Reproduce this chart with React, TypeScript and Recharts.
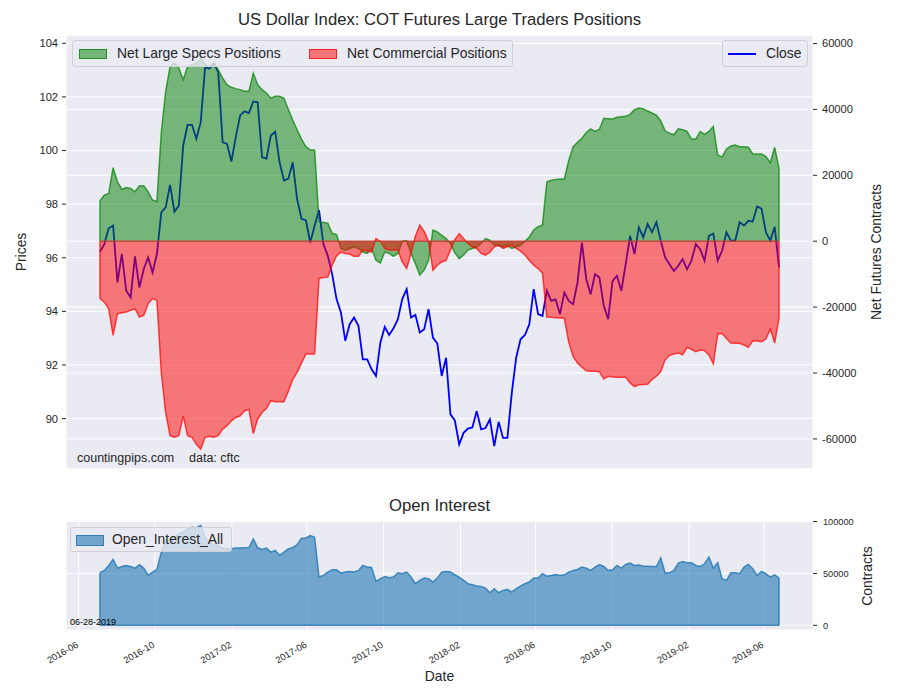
import React from 'react';
import {
  ComposedChart,
  AreaChart,
  Area,
  Line,
  XAxis,
  YAxis,
  CartesianGrid,
  ReferenceLine,
} from 'recharts';

// weekly COT report dates (Tuesdays) starting here
const FIRST_REPORT = '2016-07-05';
const WEEK_MS = 7 * 24 * 3600 * 1000;

const dateTicks = [
  '2016-06', '2016-10', '2017-02', '2017-06', '2017-10',
  '2018-02', '2018-06', '2018-10', '2019-02', '2019-06',
];
const priceTicks = [90, 92, 94, 96, 98, 100, 102, 104];
const netTicks = [-60000, -40000, -20000, 0, 20000, 40000, 60000];
const oiTicks = [0, 50000, 100000];

const closePrice = [
  96.22, 96.51, 97.1, 97.2, 95.08, 96.14, 94.77, 94.52, 96.05, 94.89,
  95.58, 96.01, 95.45, 96.14, 97.69, 97.88, 98.72, 97.72, 97.94, 100.19,
  100.96, 100.96, 100.44, 101.06, 103.11, 103.05, 103.24, 102.93, 100.31, 100.25,
  99.59, 100.5, 101.31, 101.46, 101.4, 101.83, 101.8, 99.75, 99.7, 100.56,
  100.7, 99.56, 98.88, 98.95, 99.56, 98.19, 97.45, 97.4, 96.57, 97.2,
  97.78, 96.51, 96.07, 95.39, 94.46, 93.96, 92.9, 93.52, 93.77, 93.46,
  92.21, 92.21, 91.84, 91.59, 92.83, 93.42, 93.12, 93.37, 93.71, 94.46,
  94.83, 93.77, 93.87, 93.21, 93.33, 94.08, 93.02, 92.8, 91.59, 92.27,
  90.16, 89.93, 89.04, 89.47, 89.63, 89.67, 90.28, 89.6, 89.65, 89.97,
  88.97, 89.88, 89.28, 89.28, 90.96, 92.27, 92.96, 93.12, 93.52, 94.83,
  93.9, 93.83, 94.77, 94.39, 94.45, 93.9, 94.7, 94.39, 94.27, 95.08,
  96.57, 95.2, 94.64, 95.39, 95.26, 94.21, 93.71, 95.14, 95.33, 94.77,
  95.76, 96.82, 96.14, 97.13, 96.76, 97.26, 96.95, 97.32, 96.64, 96.01,
  95.76, 95.51, 95.7, 95.95, 95.57, 95.89, 96.51, 96.32, 95.89, 96.82,
  96.9, 95.89, 96.26, 96.95, 96.64, 96.64, 97.32, 97.2, 97.38, 97.35,
  97.91, 97.83, 96.95, 96.64, 97.16, 95.64,
];

const netLargeSpecs = [
  12300, 14000, 14500, 22300, 18000, 15700, 16300, 16000, 15000, 16800,
  16800, 15000, 12500, 12000, 33000, 45500, 53000, 54100, 52600, 49000,
  53000, 53600, 54100, 55600, 53600, 53000, 54100, 52000, 49500, 47500,
  46700, 46300, 46000, 45500, 45500, 51000, 47500, 46000, 45000, 43400,
  44000, 44000, 43400, 40000, 36800, 33800, 31000, 28700, 27700, 27700,
  5900, 5700, 5500, 2400, 2000, -2200, -2700, -2200, -1700, -2200,
  -3300, -3700, -2200, -5800, -6600, -3300, -3700, -4600, -3700, 0,
  200, -3700, -6800, -10300, -8800, -5800, 3400, 2800, 1800, 800,
  -700, -3500, -5300, -4200, -2700, -2200, -1700, -700, 800, 300,
  -1200, -1400, -1700, -1200, -2200, -1700, -1200, 0, 1300, 3400,
  4400, 4900, 18000, 18500, 18700, 18900, 18900, 24500, 28700, 30000,
  31200, 33000, 34100, 33300, 34000, 37300, 37200, 37100, 37600, 37800,
  37900, 38500, 39900, 40400, 40200, 39500, 38900, 38300, 36500, 33500,
  32800, 32300, 34100, 33800, 33300, 31000, 31000, 33300, 32400, 33300,
  34800, 26200, 25600, 28000, 28900, 29200, 28700, 28700, 28500, 26500,
  26500, 26500, 25700, 23800, 28500, 22100,
];

const netCommercial = [
  -17400, -18500, -20500, -28600, -22000, -21700, -21500, -21000, -20500, -23000,
  -22500, -19000, -17400, -17900, -39800, -52000, -59000, -59500, -59000, -53000,
  -59000, -59500, -61600, -63100, -59500, -59200, -59500, -59000, -57000, -56000,
  -54500, -53500, -53000, -51500, -51000, -58400, -54000, -52000, -50800, -48400,
  -48700, -48700, -48700, -45500, -42000, -39800, -37000, -34200, -34200, -34200,
  -11300, -11000, -10900, -7300, -4500, -3300, -3700, -3900, -4600, -4600,
  -2700, -3000, -3300, 800, 0, -2200, -2700, -2700, -2700, -6300,
  -8300, -3700, 1500, 4900, 3000, 0, -8800, -7300, -6300, -5800,
  -2700, 500, 2300, 800, -700, -1700, -2200, -3700, -4200, -3300,
  -1700, -1200, -2200, -1700, -1200, -2200, -3000, -4200, -5800, -7300,
  -8300, -9600, -23000, -23100, -23200, -23300, -23400, -30600, -35000, -37000,
  -38200, -39300, -39500, -39500, -39600, -41800, -41000, -41200, -41300, -41300,
  -41300, -43000, -44100, -43600, -43500, -43400, -42000, -41000, -39600, -36000,
  -34700, -34200, -33900, -34500, -32200, -32800, -33500, -33000, -33200, -34500,
  -37200, -28100, -28000, -29500, -30900, -31000, -31000, -31500, -32200, -30200,
  -30300, -30500, -29700, -26600, -30900, -23200,
];

const openInterest = [
  50700, 52900, 57700, 63500, 55100, 56700, 57700, 56700, 55100, 58300,
  55100, 48100, 51300, 53800, 70500, 81700, 83300, 84900, 88100, 89700,
  92900, 94500, 94000, 96100, 84900, 80100, 77600, 76900, 74400, 73700,
  73700, 74400, 74400, 74700, 75000, 83300, 74700, 73100, 74400, 70500,
  72100, 67300, 70500, 73700, 75000, 77600, 84000, 84200, 86500, 84900,
  46500, 48100, 51300, 53500, 53500, 50300, 51300, 51900, 51300, 52900,
  57700, 56100, 55800, 42300, 44900, 47100, 45800, 46500, 50600, 49700,
  51300, 46500, 40100, 43300, 45500, 44900, 41700, 45500, 51300, 51900,
  51300, 48700, 46500, 43300, 40100, 39100, 37800, 37500, 35900, 31400,
  35300, 31400, 33700, 34600, 32100, 35300, 37800, 40100, 41700, 45500,
  45500, 49700, 47400, 48100, 49000, 48100, 48700, 51300, 52900, 53800,
  56100, 55100, 52900, 56100, 58600, 56700, 52900, 53500, 57700, 55100,
  58600, 59900, 57700, 58000, 57000, 57000, 56700, 56700, 65100, 50300,
  50600, 52900, 59900, 61500, 60300, 60300, 57700, 56700, 59300, 65700,
  55100, 60300, 44900, 43300, 50600, 50600, 49700, 56100, 58600, 54500,
  48100, 51900, 49700, 46500, 48700, 45500,
];

const firstTs = Date.parse(FIRST_REPORT + 'T00:00:00Z');
const data = closePrice.map((close, i) => ({
  t: firstTs + i * WEEK_MS,
  close,
  specs: netLargeSpecs[i],
  comm: netCommercial[i],
  oi: openInterest[i],
}));

const lastIdx = data.length - 1;
const lastTs = data[lastIdx].t;
const pad = (lastTs - firstTs) * 0.05;
const xDomain = [firstTs - pad, lastTs + pad];
const xTicks = dateTicks.map((d) => Date.parse(d + '-01T00:00:00Z'));

const FONT = '"Liberation Sans", Arial, Helvetica, sans-serif';
const INK = '#262626';
const BG = '#EAEAF2';

function DateTick(props: any) {
  const { x, y, payload } = props;
  const label = dateTicks[xTicks.indexOf(payload.value)];
  return (
    <g transform={`translate(${x - 3},${y + 3})`}>
      <text transform="rotate(-30)" textAnchor="end" dy="0.7em" fontSize={9.3} fill={INK} fontFamily={FONT}>
        {label}
      </text>
    </g>
  );
}

const abs = (left: number, top: number, extra: React.CSSProperties = {}): React.CSSProperties => ({
  position: 'absolute',
  left,
  top,
  whiteSpace: 'nowrap',
  ...extra,
});

const legendBox: React.CSSProperties = {
  position: 'absolute',
  background: 'rgba(234,234,242,0.8)',
  border: '1px solid #cfcfd4',
  borderRadius: 3,
  boxSizing: 'border-box',
  fontSize: 13.9,
};

// closing edges of a filled polygon (the sides Area does not stroke)
function edgeSegments(key: 'specs' | 'comm' | 'oi') {
  return [0, lastIdx].map((i) => [
    { x: data[i].t, y: 0 },
    { x: data[i].t, y: data[i][key] },
  ]);
}

// The positions panel is two charts stacked on the same axes, so that the
// translucent areas sit over the price line, as in the original figure.
function PositionsChart({ front }: { front: boolean }) {
  const tick = front ? false : { fill: INK, fontSize: 11.1, fontFamily: FONT };
  const tickLine = front ? false : { stroke: INK };
  return (
    <ComposedChart
      width={900}
      height={480}
      data={data}
      margin={{ top: 35, right: 27, bottom: 11, left: 0 }}
    >
      {!front && <CartesianGrid yAxisId="price" fill={BG} stroke="#ffffff" strokeWidth={1} />}
      {!front && <CartesianGrid yAxisId="net" vertical={false} stroke="#ffffff" strokeWidth={1} />}
      <XAxis
        dataKey="t"
        type="number"
        domain={xDomain}
        ticks={xTicks}
        interval={0}
        allowDataOverflow
        height={0}
        tick={false}
        tickLine={false}
        axisLine={false}
      />
      <YAxis
        yAxisId="price"
        orientation="left"
        width={66}
        domain={[88.12, 104.31]}
        ticks={priceTicks}
        interval={0}
        allowDataOverflow
        axisLine={false}
        tickSize={4}
        tickMargin={4}
        tickLine={tickLine}
        tick={tick}
      />
      <YAxis
        yAxisId="net"
        orientation="right"
        width={60}
        domain={[-69130, 62580]}
        ticks={netTicks}
        interval={0}
        allowDataOverflow
        axisLine={false}
        tickSize={4}
        tickMargin={5}
        tickLine={tickLine}
        tick={tick}
      />
      {!front && (
        <Line
          yAxisId="price"
          type="linear"
          dataKey="close"
          stroke="#0000ff"
          strokeWidth={1.8}
          dot={false}
          isAnimationActive={false}
        />
      )}
      {front && (
        <Area
          yAxisId="net"
          type="linear"
          dataKey="specs"
          baseValue={0}
          fill="green"
          fillOpacity={0.5}
          stroke="green"
          strokeOpacity={0.7}
          strokeWidth={1.5}
          isAnimationActive={false}
        />
      )}
      {front && (
        <Area
          yAxisId="net"
          type="linear"
          dataKey="comm"
          baseValue={0}
          fill="red"
          fillOpacity={0.5}
          stroke="red"
          strokeOpacity={0.7}
          strokeWidth={1.5}
          isAnimationActive={false}
        />
      )}
      {front &&
        edgeSegments('specs').map((seg, k) => (
          <ReferenceLine key={`g${k}`} yAxisId="net" segment={seg} stroke="green" strokeOpacity={0.7} strokeWidth={1.5} />
        ))}
      {front &&
        edgeSegments('comm').map((seg, k) => (
          <ReferenceLine key={`r${k}`} yAxisId="net" segment={seg} stroke="red" strokeOpacity={0.7} strokeWidth={1.5} />
        ))}
      {front && (
        <ReferenceLine
          yAxisId="net"
          segment={[{ x: firstTs, y: 0 }, { x: lastTs, y: 0 }]}
          stroke="#c0392b"
          strokeOpacity={0.85}
          strokeWidth={1.5}
        />
      )}
    </ComposedChart>
  );
}

function OpenInterestChart() {
  return (
    <AreaChart
      width={900}
      height={210}
      data={data}
      margin={{ top: 31, right: 27, bottom: 15, left: 66 }}
    >
      <CartesianGrid fill={BG} stroke="#ffffff" strokeWidth={1} />
      <XAxis
        dataKey="t"
        type="number"
        domain={xDomain}
        ticks={xTicks}
        interval={0}
        allowDataOverflow
        height={55}
        axisLine={false}
        tickLine={false}
        tick={<DateTick />}
      />
      <YAxis
        orientation="right"
        width={60}
        domain={[-4500, 100500]}
        ticks={oiTicks}
        interval={0}
        allowDataOverflow
        axisLine={false}
        tickSize={4}
        tickMargin={6}
        tickLine={{ stroke: INK }}
        tick={{ fill: INK, fontSize: 9.2, fontFamily: FONT }}
      />
      <Area
        type="linear"
        dataKey="oi"
        baseValue={0}
        fill="#1f77b4"
        fillOpacity={0.6}
        stroke="#1f77b4"
        strokeOpacity={0.8}
        strokeWidth={1.5}
        isAnimationActive={false}
      />
      {edgeSegments('oi').map((seg, k) => (
        <ReferenceLine key={`o${k}`} segment={seg} stroke="#1f77b4" strokeOpacity={0.8} strokeWidth={1.5} />
      ))}
      <ReferenceLine
        segment={[{ x: firstTs, y: 0 }, { x: lastTs, y: 0 }]}
        stroke="#1f77b4"
        strokeOpacity={0.8}
        strokeWidth={1.5}
      />
    </AreaChart>
  );
}

export default function App() {
  return (
    <div
      style={{
        position: 'absolute',
        left: 0,
        top: 0,
        width: 900,
        height: 700,
        background: '#ffffff',
        fontFamily: FONT,
        color: INK,
        overflow: 'hidden',
      }}
    >
      <div style={abs(0, 0)}>
        <PositionsChart front={false} />
      </div>
      <div style={abs(0, 0)}>
        <PositionsChart front />
      </div>
      <div style={abs(0, 490)}>
        <OpenInterestChart />
      </div>

      {/* titles and axis labels */}
      <div style={abs(66, 11, { width: 747, textAlign: 'center', fontSize: 16.7, lineHeight: '18px' })}>
        US Dollar Index: COT Futures Large Traders Positions
      </div>
      <div style={abs(66, 497, { width: 747, textAlign: 'center', fontSize: 16.7, lineHeight: '18px' })}>
        Open Interest
      </div>
      <div style={abs(66, 668, { width: 747, textAlign: 'center', fontSize: 13.9, lineHeight: '16px' })}>
        Date
      </div>
      <div style={abs(21, 252, { fontSize: 13.9, transform: 'translate(-50%,-50%) rotate(-90deg)' })}>
        Prices
      </div>
      <div style={abs(876, 252, { fontSize: 13.9, transform: 'translate(-50%,-50%) rotate(-90deg)' })}>
        Net Futures Contracts
      </div>
      <div style={abs(867, 576, { fontSize: 13.9, transform: 'translate(-50%,-50%) rotate(-90deg)' })}>
        Contracts
      </div>
      <div style={abs(77, 451, { fontSize: 12.5, lineHeight: '14px' })}>countingpips.com</div>
      <div style={abs(189, 451, { fontSize: 12.5, lineHeight: '14px' })}>data: cftc</div>
      <div style={abs(70, 617, { fontSize: 9, lineHeight: '10px', color: '#000' })}>06-28-2019</div>

      {/* legends */}
      <div style={{ ...legendBox, left: 72, top: 40, width: 441, height: 27 }}>
        <span style={abs(6, 8, { width: 28, height: 10, background: 'rgba(0,128,0,0.5)', border: '1px solid rgba(0,128,0,0.7)', boxSizing: 'border-box' })} />
        <span style={abs(44, 5, { lineHeight: '15px' })}>Net Large Specs Positions</span>
        <span style={abs(236, 8, { width: 28, height: 10, background: 'rgba(255,0,0,0.5)', border: '1px solid rgba(255,0,0,0.7)', boxSizing: 'border-box' })} />
        <span style={abs(274, 5, { lineHeight: '15px' })}>Net Commercial Positions</span>
      </div>
      <div style={{ ...legendBox, left: 722, top: 40, width: 86, height: 27 }}>
        <span style={abs(5, 12, { width: 28, height: 2, background: '#0000ff' })} />
        <span style={abs(43, 5, { lineHeight: '15px' })}>Close</span>
      </div>
      <div style={{ ...legendBox, left: 70, top: 527, width: 162, height: 25 }}>
        <span style={abs(5, 7, { width: 28, height: 11, background: 'rgba(31,119,180,0.6)', border: '1px solid rgba(31,119,180,0.8)', boxSizing: 'border-box' })} />
        <span style={abs(41, 4, { lineHeight: '15px' })}>Open_Interest_All</span>
      </div>
    </div>
  );
}
